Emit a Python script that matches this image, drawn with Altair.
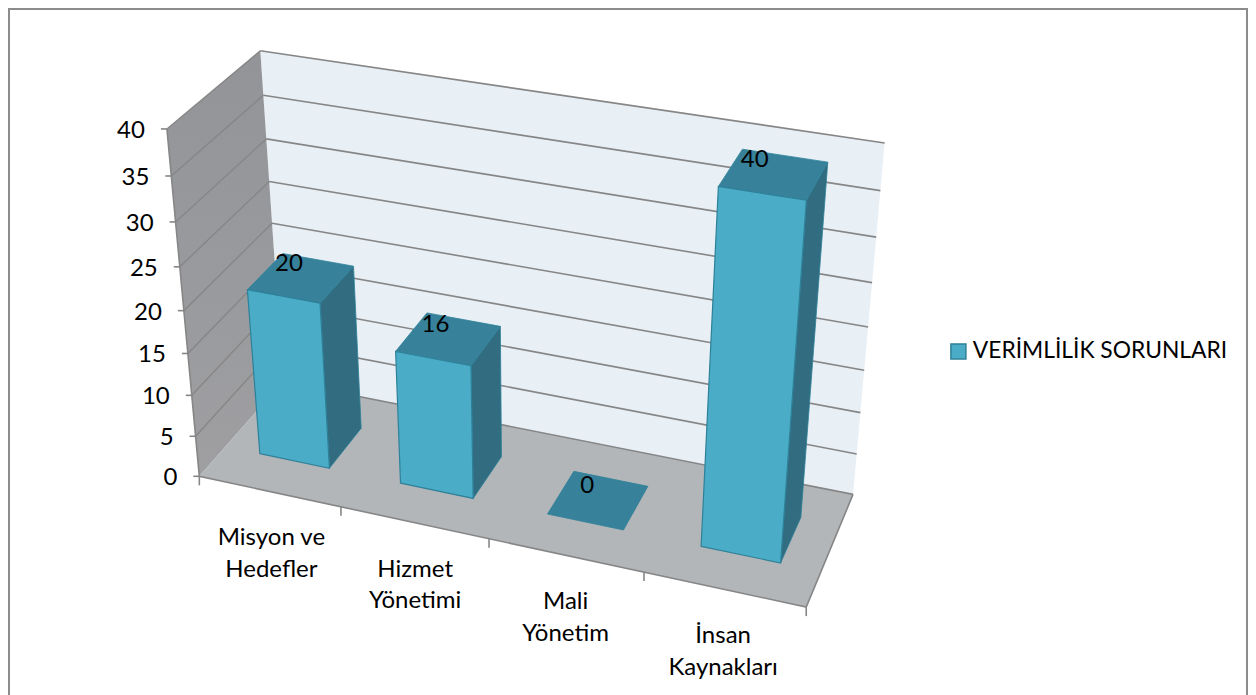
import altair as alt

# ---- data ----
CATEGORIES = [["Misyon ve", "Hedefler"], ["Hizmet", "Yönetimi"], ["Mali", "Yönetim"], ["İnsan", "Kaynakları"]]
VALUES = [20, 16, 0, 40]
SERIES = "VERİMLİLİK SORUNLARI"
AXIS_TICKS = [0, 5, 10, 15, 20, 25, 30, 35, 40]

# ---- style and 3-D camera ----
FONT = "Lato"
FS = 24
C_FRONT, C_TOP, C_SIDE, C_EDGE = "#4AACC6", "#37829A", "#316C80", "#2E8199"
C_WALL, C_FLOOR, C_GRID = "#E8EFF5", "#B3B6B9", "#868686"
BAR_WIDTH, DEPTH_FROM, DEPTH_TO = 0.5, 0.30, 0.71
# projective camera (category position, depth, value) -> page pixel
CAM = [[134.265, 103.6959, -1.179726, 199.3289],
       [19.55164, -67.59773, -8.969313, 476.2826],
       [-0.02165784, 0.0714523, -0.002213607, 1.0]]
PAGE_W, PAGE_H = 1240, 687
N = len(VALUES)
VMAX = AXIS_TICKS[-1]


def P(u, v, w, dx=0.0, dy=0.0):
    a, b, c = [r[0] * u + r[1] * v + r[2] * w + r[3] for r in CAM]
    return [a / c + dx, b / c + dy]


def poly(pts, **props):
    return {"type": "Feature", "properties": props,
            "geometry": {"type": "Polygon", "coordinates": [pts + [pts[0]]]}}


def line(pts, **props):
    return {"type": "Feature", "properties": props,
            "geometry": {"type": "LineString", "coordinates": pts}}


def geo(features, **mark):
    return alt.Chart(alt.Data(values=features)).mark_geoshape(**mark).project(type="identity", scale=1, translate=[-8, -8])


def text(rows, **mark):
    return (alt.Chart(alt.Data(values=rows))
            .mark_text(font=FONT, fontSize=FS, color="#000000", baseline="middle", **mark)
            .encode(longitude="lon:Q", latitude="lat:Q", text="t:N")
            .project(type="identity", scale=1, translate=[-8, -8]))


# ---- cage ----
back_wall = geo([poly([P(0, 1, 0), P(N, 1, 0), P(N, 1, VMAX), P(0, 1, VMAX)])], fill=C_WALL)
side_wall = geo([poly([P(0, 0, 0), P(0, 1, 0), P(0, 1, VMAX), P(0, 0, VMAX)])],
                fill=alt.LinearGradient(gradient="linear",
                                        stops=[alt.GradientStop(color="#929497", offset=0),
                                               alt.GradientStop(color="#9F9FA2", offset=1)],
                                        x1=0, x2=0, y1=0, y2=1))
floor = geo([poly([P(0, 0, 0), P(N, 0, 0), P(N, 1, 0), P(0, 1, 0)])], fill=C_FLOOR)
grid_back = geo([line([P(0, 1, t), P(N, 1, t)]) for t in AXIS_TICKS], filled=False, stroke=C_GRID, strokeWidth=1.6)
grid_side = geo([line([P(0, 0, t), P(0, 1, t)]) for t in AXIS_TICKS[1:]], filled=False, stroke=C_GRID, strokeWidth=1.4)
edges = geo([line([P(0, 0, VMAX), P(0, 0, 0), P(N, 0, 0), P(N, 1, 0)])], filled=False, stroke=C_GRID, strokeWidth=1.6)
ticks = geo([line([P(0, 0, t, -6), P(0, 0, t)]) for t in AXIS_TICKS]
            + [line([P(i, 0, 0), P(i, 0, 0, 0, 9)]) for i in range(N + 1)],
            filled=False, stroke=C_GRID, strokeWidth=1.6)

# ---- bars ----
tops, sides, fronts = [], [], []
for i, val in enumerate(VALUES):
    a, c = i + 0.5 - BAR_WIDTH / 2, i + 0.5 + BAR_WIDTH / 2
    v0, v1 = DEPTH_FROM, DEPTH_TO
    tops.append(poly([P(a, v0, val), P(c, v0, val), P(c, v1, val), P(a, v1, val)]))
    if val > 0:
        sides.append(poly([P(c, v0, 0), P(c, v1, 0), P(c, v1, val), P(c, v0, val)]))
        fronts.append(poly([P(a, v0, 0), P(c, v0, 0), P(c, v0, val), P(a, v0, val)], series=SERIES))
side_layer = geo(sides, fill=C_SIDE, stroke=C_EDGE, strokeWidth=0.8)
top_layer = geo(tops, fill=C_TOP, stroke=C_EDGE, strokeWidth=0.8)
front_layer = geo(fronts, stroke=C_EDGE, strokeWidth=1.2).encode(
    color=alt.Color("properties.series:N",
                    scale=alt.Scale(domain=[SERIES], range=[C_FRONT]),
                    legend=alt.Legend(title=None, orient="none", legendX=939, legendY=332,
                                      labelFont=FONT, labelFontSize=22.8, labelColor="#000000", labelLimit=400,
                                      symbolType="square", symbolSize=225, symbolStrokeColor=C_EDGE,
                                      symbolStrokeWidth=1.5, labelOffset=3)))

# ---- texts ----
LABEL_SHIFT = [-12, -13, -11, -19]
value_labels = []
for i, val in enumerate(VALUES):
    lon, lat = P(i + 0.5, (DEPTH_FROM + DEPTH_TO) / 2, val, LABEL_SHIFT[i], -14)
    value_labels.append({"lon": lon, "lat": lat, "t": str(val)})
tick_labels = []
for t in AXIS_TICKS:
    lon, lat = P(0, 0, t, -22, 2)
    tick_labels.append({"lon": lon, "lat": lat, "t": str(t)})
CAT_SHIFT = [2, 1, 0, -1]
cat_labels = []
for i, rows in enumerate(CATEGORIES):
    base = P(i + 0.5, 0, 0)
    for k, s in enumerate(rows):
        cat_labels.append({"lon": base[0] + CAT_SHIFT[i], "lat": base[1] + 47 + 31.5 * k, "t": s})

frame = geo([line([[9, PAGE_H + 8], [9, 9], [PAGE_W + 7, 9], [PAGE_W + 7, PAGE_H + 8]])],
            filled=False, stroke="#8C8C8C", strokeWidth=2)

chart = alt.layer(
    frame, back_wall, side_wall, floor, grid_back, grid_side, edges, ticks,
    side_layer, top_layer, front_layer,
    text(value_labels, align="center"), text(tick_labels, align="right"), text(cat_labels, align="center"),
).properties(
    width=PAGE_W, height=PAGE_H, padding=0, autosize=alt.AutoSizeParams(type="none"), background="#FFFFFF"
).configure_view(stroke=None)

chart.save("out.html", embed_options={"renderer": "svg", "actions": False})
